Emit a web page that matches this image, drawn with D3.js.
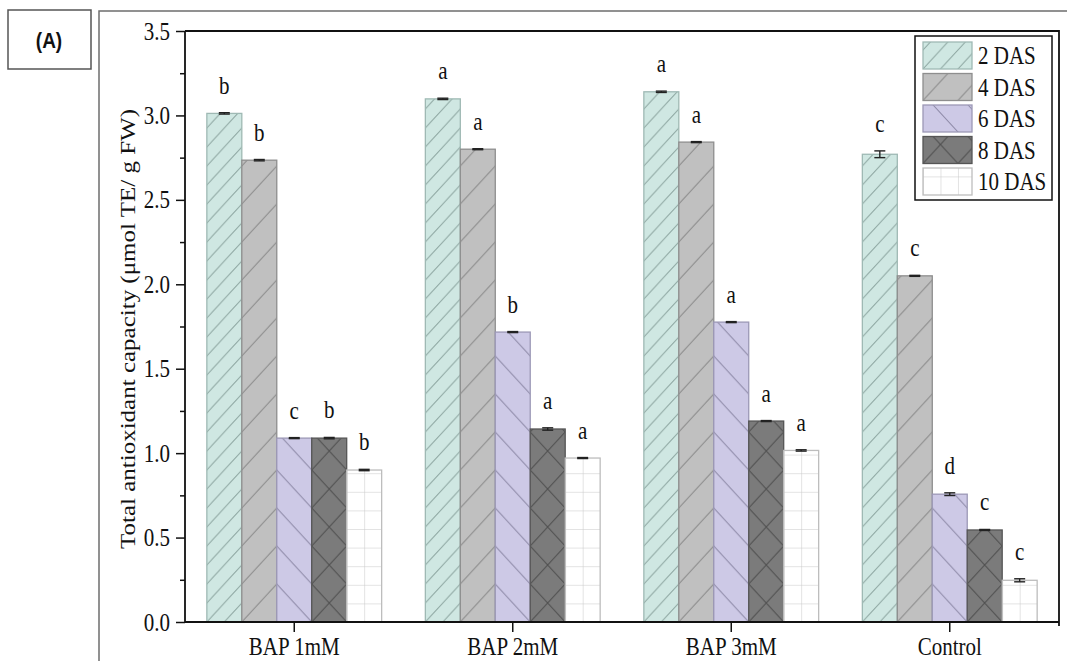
<!DOCTYPE html>
<html>
<head>
<meta charset="utf-8">
<script src="https://cdn.jsdelivr.net/npm/d3@7"></script>
<style>
  html, body { margin: 0; padding: 0; background: #fff; }
  svg { display: block; }
</style>
</head>
<body>
<svg id="chart" width="1067" height="661"></svg>
<script>
// ---- data -------------------------------------------------------------
const groups = ["BAP 1mM", "BAP 2mM", "BAP 3mM", "Control"];
const series = ["2 DAS", "4 DAS", "6 DAS", "8 DAS", "10 DAS"];

const das2  = [3.012, 3.098, 3.140, 2.770];
const das4  = [2.735, 2.800, 2.842, 2.050];
const das6  = [1.089, 1.717, 1.776, 0.757];
const das8  = [1.089, 1.143, 1.190, 0.545];
const das10 = [0.900, 0.971, 1.016, 0.247];

const err2  = [0.004, 0.004, 0.004, 0.020];
const err4  = [0.004, 0.003, 0.003, 0.003];
const err6  = [0.003, 0.003, 0.003, 0.008];
const err8  = [0.004, 0.007, 0.003, 0.003];
const err10 = [0.004, 0.003, 0.004, 0.009];

const let2  = ["b", "a", "a", "c"];
const let4  = ["b", "a", "a", "c"];
const let6  = ["c", "b", "a", "d"];
const let8  = ["b", "a", "a", "c"];
const let10 = ["b", "a", "a", "c"];

const yTicks = [0, 0.5, 1.0, 1.5, 2.0, 2.5, 3.0, 3.5];
const yMinor = [0.25, 0.75, 1.25, 1.75, 2.25, 2.75, 3.25];

const values  = [das2, das4, das6, das8, das10];
const errors  = [err2, err4, err6, err8, err10];
const letters = [let2, let4, let6, let8, let10];

// ---- styling per series ---------------------------------------------
const styles = [
  { fill: "#cfe7e2", stroke: "#9fb9b4", hatch: "#8ea7a2", kind: "fwd",  fx: 0.5, fy: 19 },
  { fill: "#c0c0c0", stroke: "#8e8e8e", hatch: "#8a8a8a", kind: "fwd",  fx: 1,   fy: 38 },
  { fill: "#cdc9e6", stroke: "#9c98b6", hatch: "#8e8aa8", kind: "back", fx: 1,   fy: 38 },
  { fill: "#7b7b7b", stroke: "#555555", hatch: "#4e4e4e", kind: "cross",fx: 1,   fy: 38 },
  { fill: "#ffffff", stroke: "#bdbdbd", hatch: "#c8c8c8", kind: "grid", fx: 0.5, fy: 18.6 }
];

const SY = 1.19; // vertical stretch of lettering
const serif = "'Liberation Serif', 'Times New Roman', serif";

const svg = d3.select("#chart");
const defs = svg.append("defs");

// ---- layout --------------------------------------------------------------
const plotL = 185, plotR = 1059, plotT = 31, plotB = 622;

const x0 = d3.scaleBand().domain(groups).range([plotL, plotR])
  .paddingInner(0.2).paddingOuter(0.1);
const x1 = d3.scaleBand().domain(series).range([0, x0.bandwidth()]);
const y = d3.scaleLinear().domain([0, 3.5]).range([plotB, plotT]);

// pattern builder: one tile spans tw x th, anchored at (ox, oy)
function makePattern(id, st, ox, oy, tw, th) {
  const p = defs.append("pattern")
    .attr("id", id)
    .attr("patternUnits", "userSpaceOnUse")
    .attr("x", ox).attr("y", oy)
    .attr("width", tw).attr("height", th);
  p.append("rect").attr("width", tw).attr("height", th).attr("fill", st.fill);
  let d;
  if (st.kind === "fwd") {
    d = `M0,${th} L${tw},0 M-2,2 L2,-2 M${tw - 2},${th + 2} L${tw + 2},${th - 2}`;
  } else if (st.kind === "back") {
    d = `M0,0 L${tw},${th} M-2,${th - 2} L2,${th + 2} M${tw - 2},-2 L${tw + 2},2`;
  } else if (st.kind === "cross") {
    d = `M0,${th} L${tw},0 M0,0 L${tw},${th}`;
  } else {
    d = `M0,0 L${tw},0 M0,0 L0,${th}`;
  }
  p.append("path").attr("d", d)
    .attr("stroke", st.hatch).attr("stroke-width", 1).attr("fill", "none");
  return `url(#${id})`;
}

// ---- outer frame and panel tag ------------------------------------------
svg.append("path")
  .attr("d", "M99,661 L99,11 L1067,11")
  .attr("fill", "none").attr("stroke", "#6e6e6e").attr("stroke-width", 1.5);

svg.append("rect")
  .attr("x", 8).attr("y", 10).attr("width", 83).attr("height", 59)
  .attr("fill", "none").attr("stroke", "#555").attr("stroke-width", 1.5);
svg.append("g").attr("transform", `translate(49,40) scale(1,${SY})`)
  .append("text")
  .attr("text-anchor", "middle").attr("dy", "0.36em")
  .attr("font-family", "'Liberation Sans', Arial, sans-serif")
  .attr("font-weight", "bold").attr("font-size", 19)
  .attr("fill", "#111")
  .text("(A)");

// ---- bars ------------------------------------------------------------
const bw = x1.bandwidth();
groups.forEach((g, gi) => {
  series.forEach((s, si) => {
    const st = styles[si];
    const bx = x0(g) + x1(s);
    const v = values[si][gi];
    const e = errors[si][gi];
    const fill = makePattern(`pat-${gi}-${si}`, st, bx, y(0), bw * st.fx, st.fy);

    svg.append("rect")
      .attr("x", bx).attr("y", y(v))
      .attr("width", bw).attr("height", y(0) - y(v))
      .attr("fill", fill)
      .attr("stroke", st.stroke).attr("stroke-width", 1.3);

    // error bar
    const cx = bx + bw / 2;
    const eb = svg.append("g").attr("stroke", "#222").attr("stroke-width", 1.4);
    eb.append("line").attr("x1", cx).attr("x2", cx).attr("y1", y(v + e)).attr("y2", y(v - e));
    eb.append("line").attr("x1", cx - 5.5).attr("x2", cx + 5.5).attr("y1", y(v + e)).attr("y2", y(v + e));
    eb.append("line").attr("x1", cx - 5.5).attr("x2", cx + 5.5).attr("y1", y(v - e)).attr("y2", y(v - e));

    // significance letter
    svg.append("g").attr("transform", `translate(${cx},${y(v + e) - 19}) scale(1,${SY})`)
      .append("text")
      .attr("text-anchor", "middle")
      .attr("font-family", serif).attr("font-size", 21).attr("fill", "#111")
      .text(letters[si][gi]);
  });
});

// ---- axes --------------------------------------------------------------
const yAxis = svg.append("g").attr("transform", `translate(${plotL},0)`)
  .call(d3.axisLeft(y).tickValues(yTicks).tickFormat(d3.format(".1f"))
    .tickSize(9).tickPadding(6));
yAxis.selectAll(".tick text")
  .attr("transform", `scale(1,${SY})`)
  .attr("font-family", serif).attr("font-size", 21).attr("fill", "#111");
yAxis.select(".domain").remove();
yAxis.selectAll(".tick line").attr("stroke", "#111").attr("stroke-width", 1.5);

svg.append("g").attr("transform", `translate(${plotL},0)`)
  .call(d3.axisLeft(y).tickValues(yMinor).tickSize(5).tickFormat(""))
  .call(a => a.select(".domain").remove())
  .selectAll(".tick line").attr("stroke", "#111").attr("stroke-width", 1.5);

const xAxis = svg.append("g").attr("transform", `translate(0,${plotB})`)
  .call(d3.axisBottom(x0).tickSize(10).tickSizeOuter(0));
xAxis.select(".domain").remove();
xAxis.selectAll(".tick line").attr("stroke", "#111").attr("stroke-width", 1.5);
xAxis.selectAll(".tick text")
  .attr("y", 33 / SY).attr("dy", 0)
  .attr("transform", `scale(1,${SY})`)
  .attr("font-family", serif).attr("font-size", 21).attr("fill", "#111");

// plot frame
svg.append("path")
  .attr("d", `M${plotL},${plotT} L${plotR},${plotT} L${plotR},${plotB + 4} M${plotL},${plotT} L${plotL},${plotB} L${plotR},${plotB}`)
  .attr("fill", "none").attr("stroke", "#111").attr("stroke-width", 1.8);

// y-axis title
svg.append("g").attr("transform", `translate(128,329) scale(1,${SY}) rotate(-90)`)
  .append("text")
  .attr("text-anchor", "middle").attr("dy", "0.35em")
  .attr("font-family", serif).attr("font-size", 21).attr("fill", "#111")
  .text("Total antioxidant capacity (\u03bcmol TE/ g FW)");

// ---- legend ------------------------------------------------------------
const lg = svg.append("g");
lg.append("rect")
  .attr("x", 915).attr("y", 36).attr("width", 137).attr("height", 164)
  .attr("fill", "#fff").attr("stroke", "#111").attr("stroke-width", 1.5);

const swW = 49, swH = 27, pitch = 31.5, ly0 = 42, lx = 923;
series.forEach((s, si) => {
  const st = styles[si];
  const sy = ly0 + si * pitch;
  const fill = makePattern(`leg-${si}`, st, lx, sy + swH, bw * st.fx, st.fy);
  lg.append("rect")
    .attr("x", lx).attr("y", sy).attr("width", swW).attr("height", swH)
    .attr("fill", fill).attr("stroke", st.stroke).attr("stroke-width", 1.3);
  lg.append("g").attr("transform", `translate(${lx + swW + 6},${sy + swH / 2}) scale(1,${SY})`)
    .append("text")
    .attr("dy", "0.35em")
    .attr("font-family", serif).attr("font-size", 21).attr("fill", "#111")
    .text(s);
});
</script>
</body>
</html>
